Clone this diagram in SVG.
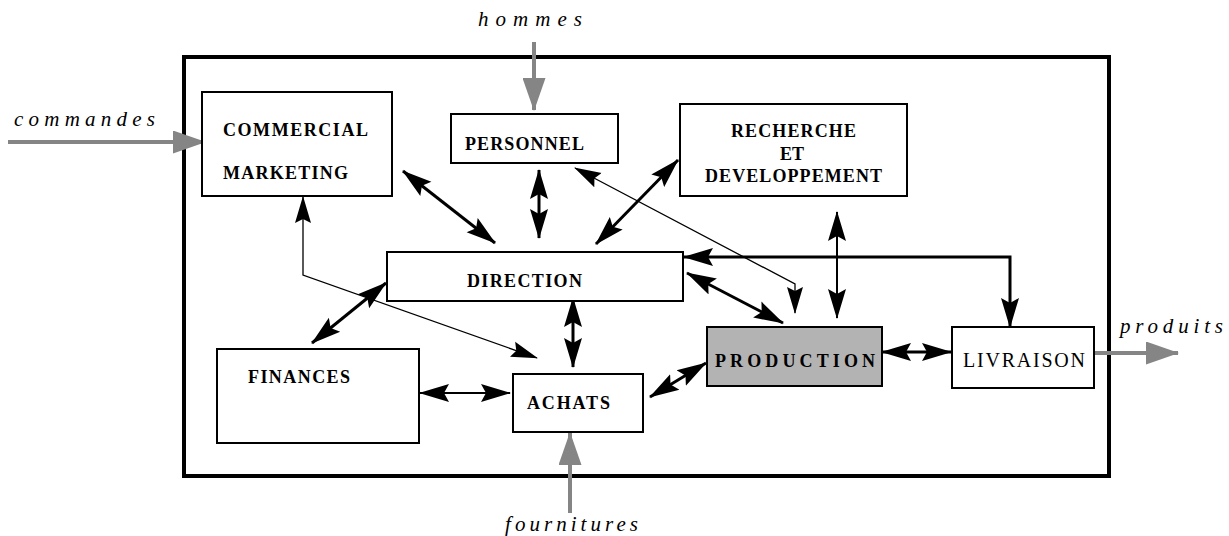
<svg xmlns="http://www.w3.org/2000/svg" width="1229" height="536" viewBox="0 0 1229 536">
<style>
.box{fill:#fff;stroke:#000;stroke-width:2}
.prod{fill:#b3b3b3;stroke:#000;stroke-width:2}
.t{font-family:"Liberation Serif","Times New Roman",serif;font-size:18px;font-weight:bold;fill:#000}
.tn{font-family:"Liberation Serif","Times New Roman",serif;font-size:20px;fill:#000}
.lab{font-family:"Liberation Serif","Times New Roman",serif;font-size:21px;font-style:italic;fill:#000}
.thick{fill:none;stroke:#000;stroke-width:3;marker-start:url(#ah);marker-end:url(#ah)}
.mid{fill:none;stroke:#000;stroke-width:2;marker-start:url(#ah);marker-end:url(#ah)}
.thin{fill:none;stroke:#000;stroke-width:1.3;marker-start:url(#ahs);marker-end:url(#ahs)}
.gray{fill:none;stroke:#858585;stroke-width:4;marker-end:url(#gh)}
</style>
<defs>
<marker id="ah" markerUnits="userSpaceOnUse" markerWidth="30" markerHeight="20" refX="29" refY="10" orient="auto-start-reverse"><path d="M0,1 L30,10 L0,19 L5,10 Z" fill="#000"/></marker>
<marker id="ahs" markerUnits="userSpaceOnUse" markerWidth="27" markerHeight="18" refX="26" refY="9" orient="auto-start-reverse"><path d="M0,1 L27,9 L0,17 L4,9 Z" fill="#000"/></marker>
<marker id="gh" markerUnits="userSpaceOnUse" markerWidth="33" markerHeight="23" refX="32" refY="11.5" orient="auto"><path d="M0,0 L33,11.5 L0,23 Z" fill="#858585"/></marker>
</defs>
<rect x="184" y="57" width="925" height="419" fill="none" stroke="#000" stroke-width="4"/>
<g id="connectors">
<line class="thick" x1="403" y1="171" x2="495" y2="243"/>
<line class="thick" x1="539" y1="170" x2="539" y2="238"/>
<line class="thick" x1="678" y1="160" x2="596" y2="244"/>
<polyline class="thin" points="575,168 795,284 795,313"/>
<line class="mid" x1="837" y1="212" x2="837" y2="318"/>
<polyline class="thick" points="684,257 1010,257 1010,327"/>
<line class="thick" x1="687" y1="273" x2="783" y2="323"/>
<polyline class="thin" points="303,197 303,275 537,358"/>
<line class="thick" x1="386" y1="283" x2="312" y2="343"/>
<line class="thick" x1="573" y1="298" x2="573" y2="367"/>
<line class="mid" x1="420" y1="393" x2="510" y2="393"/>
<line class="thick" x1="650" y1="397" x2="706" y2="363"/>
<line class="thick" x1="882" y1="352" x2="951" y2="352"/>
<line class="gray" x1="8" y1="142" x2="205" y2="142"/>
<line class="gray" x1="534" y1="42" x2="534" y2="110"/>
<line class="gray" x1="570" y1="513" x2="570" y2="433"/>
<line class="gray" x1="1094" y1="353" x2="1178" y2="353"/>
</g>
<g id="commercial">
<rect class="box" x="202" y="92" width="190" height="104"/>
<text class="t" x="223" y="136" textLength="145" lengthAdjust="spacing">COMMERCIAL</text>
<text class="t" x="223" y="179" textLength="125" lengthAdjust="spacing">MARKETING</text>
</g>
<g id="personnel">
<rect class="box" x="451" y="114" width="167" height="49"/>
<text class="t" x="465" y="150" textLength="119" lengthAdjust="spacing">PERSONNEL</text>
</g>
<g id="recherche">
<rect class="box" x="680" y="104" width="227" height="92"/>
<text class="t" x="731" y="137" textLength="125" lengthAdjust="spacing">RECHERCHE</text>
<text class="t" x="780" y="160" textLength="24" lengthAdjust="spacing">ET</text>
<text class="t" x="705" y="182" textLength="177" lengthAdjust="spacing">DEVELOPPEMENT</text>
</g>
<g id="direction">
<rect class="box" x="387" y="252" width="296" height="49"/>
<text class="t" x="467" y="287" textLength="115" lengthAdjust="spacing">DIRECTION</text>
</g>
<g id="finances">
<rect class="box" x="217" y="349" width="202" height="94"/>
<text class="t" x="248" y="383" textLength="102" lengthAdjust="spacing">FINANCES</text>
</g>
<g id="achats">
<rect class="box" x="513" y="374" width="130" height="58"/>
<text class="t" x="527" y="409" textLength="83" lengthAdjust="spacing">ACHATS</text>
</g>
<g id="production">
<rect class="prod" x="707" y="327" width="175" height="59"/>
<text class="t" x="715" y="367" textLength="160" lengthAdjust="spacing">PRODUCTION</text>
</g>
<g id="livraison">
<rect class="box" x="952" y="327" width="142" height="61"/>
<text class="tn" x="963" y="367" textLength="122" lengthAdjust="spacing">LIVRAISON</text>
</g>
<g id="labels">
<text class="lab" x="14" y="126" textLength="141" lengthAdjust="spacing">commandes</text>
<text class="lab" x="478" y="26" textLength="104" lengthAdjust="spacing">hommes</text>
<text class="lab" x="505" y="531" textLength="133" lengthAdjust="spacing">fournitures</text>
<text class="lab" x="1120" y="333" textLength="103" lengthAdjust="spacing">produits</text>
</g>
</svg>
